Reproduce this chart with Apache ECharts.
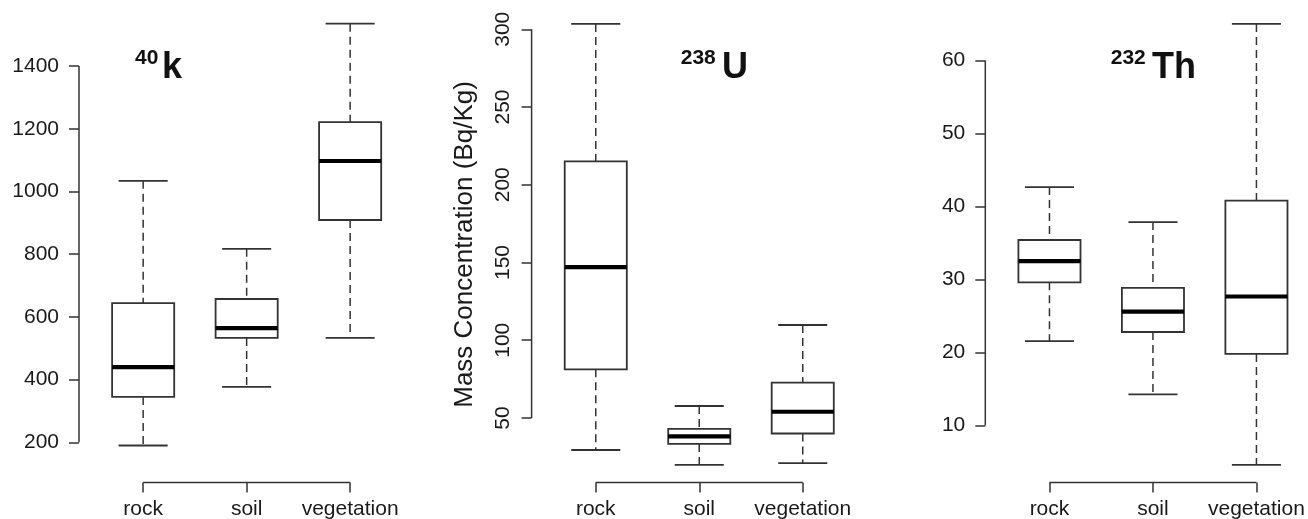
<!DOCTYPE html>
<html>
<head>
<meta charset="utf-8">
<script src="https://cdn.jsdelivr.net/npm/echarts@6/dist/echarts.min.js"></script>
<style>
html,body{margin:0;padding:0;background:#fff;}
#chart{width:1308px;height:519px;}
</style>
</head>
<body>
<div id="chart"></div>
<script>
// ---- data ----
const categories = ['rock', 'soil', 'vegetation'];
// each row: [min, Q1, median, Q3, max]
const k40Stats = [[190, 345, 440, 644, 1034], [377, 533, 564, 657, 817], [533, 909, 1097, 1221, 1535]];
const u238Stats = [[29.4, 81.3, 147, 215, 303.4], [19.8, 33.3, 38.2, 43, 57.7], [21, 40, 54, 72.7, 109.8]];
const th232Stats = [[21.55, 29.6, 32.5, 35.4, 42.65], [14.25, 22.8, 25.6, 28.85, 37.85], [4.6, 19.8, 27.66, 40.8, 65]];
const k40Ticks = [200, 400, 600, 800, 1000, 1200, 1400];
const u238Ticks = [50, 100, 150, 200, 250, 300];
const th232Ticks = [10, 20, 30, 40, 50, 60];
const isotopeMass = ['40', '238', '232'];
const isotopeSymbol = ['k', 'U', 'Th'];
const yAxisTitle = 'Mass Concentration (Bq/Kg)';

// ---- layout / style ----
const FONT = '"Liberation Sans", Arial, Helvetica, sans-serif';
const TEXT = '#1a1a1a';
const LINE = '#333';
const X_MIN = 0.38, X_MAX = 3.62;

const panels = [
  {stats: k40Stats, ticks: k40Ticks, range: [72, 1590], left: 79, rotateLabels: false},
  {stats: u238Stats, ticks: u238Ticks, range: [8.5, 314.7], left: 531.6, rotateLabels: true},
  {stats: th232Stats, ticks: th232Ticks, range: [2.18, 67.4], left: 985.3, rotateLabels: false}
];

const grids = [], xAxes = [], yAxes = [], series = [];

panels.forEach((p, i) => {
  grids.push({left: p.left, top: 6.4, width: 335.3, height: 476.1, containLabel: false, outerBoundsMode: 'none'});
  xAxes.push({
    type: 'value', gridIndex: i, min: X_MIN, max: X_MAX,
    splitLine: {show: false}, axisLine: {show: false},
    axisTick: {show: true, customValues: [1, 2, 3], length: 10, lineStyle: {color: LINE, width: 1.5}},
    axisLabel: {show: true, customValues: [1, 2, 3], margin: 16, color: TEXT, fontSize: 21, fontFamily: FONT,
      formatter: v => categories[Math.round(v) - 1]}
  });
  const y = {
    type: 'value', gridIndex: i, min: p.range[0], max: p.range[1],
    splitLine: {show: false}, axisLine: {show: false},
    axisTick: {show: true, customValues: p.ticks, length: 10, lineStyle: {color: LINE, width: 1.5}},
    axisLabel: {show: true, customValues: p.ticks, margin: 20, color: TEXT, fontSize: 21, fontFamily: FONT,
      rotate: p.rotateLabels ? 90 : 0, formatter: v => String(v)}
  };
  if (p.rotateLabels) {
    y.axisLabel.margin = 18;
    y.name = yAxisTitle;
    y.nameLocation = 'middle';
    y.nameRotate = 90;
    y.nameGap = 54;
    y.nameTextStyle = {fontSize: 26, color: TEXT, fontFamily: FONT};
  }
  yAxes.push(y);

  // axis lines spanning first..last tick (R style)
  const t0 = p.ticks[0], t1 = p.ticks[p.ticks.length - 1];
  series.push({
    type: 'custom', xAxisIndex: i, yAxisIndex: i, silent: true, clip: false,
    data: [[1, t0]],
    renderItem: (params, api) => {
      const a = api.coord([X_MIN, t0]), b = api.coord([X_MIN, t1]);
      const c = api.coord([1, p.range[0]]), d = api.coord([3, p.range[0]]);
      return {type: 'group', children: [
        {type: 'line', shape: {x1: a[0], y1: a[1], x2: b[0], y2: b[1]}, style: {stroke: LINE, lineWidth: 1.5}},
        {type: 'line', shape: {x1: c[0], y1: c[1], x2: d[0], y2: d[1]}, style: {stroke: LINE, lineWidth: 1.5}}
      ]};
    }
  });

  // box plots
  series.push({
    type: 'custom', xAxisIndex: i, yAxisIndex: i, clip: false,
    data: p.stats.map((s, j) => [j + 1].concat(s)),
    encode: {x: 0, y: [1, 2, 3, 4, 5]},
    renderItem: (params, api) => {
      const x = api.value(0);
      const lo = api.value(1), q1 = api.value(2), md = api.value(3), q3 = api.value(4), hi = api.value(5);
      const hb = 0.3, hc = 0.237;
      const bl = api.coord([x - hb, q1]), tr = api.coord([x + hb, q3]);
      const m1 = api.coord([x - hb, md]), m2 = api.coord([x + hb, md]);
      const cLo = api.coord([x, lo]), cHi = api.coord([x, hi]);
      const capL = api.coord([x - hc, lo]), capR = api.coord([x + hc, lo]);
      const capL2 = api.coord([x - hc, hi]), capR2 = api.coord([x + hc, hi]);
      const dash = {stroke: LINE, lineWidth: 1.5, lineDash: [8, 5]};
      const solid = {stroke: LINE, lineWidth: 1.8};
      return {type: 'group', children: [
        {type: 'line', shape: {x1: cHi[0], y1: cHi[1], x2: cHi[0], y2: tr[1]}, style: dash},
        {type: 'line', shape: {x1: cLo[0], y1: bl[1], x2: cLo[0], y2: cLo[1]}, style: dash},
        {type: 'line', shape: {x1: capL[0], y1: capL[1], x2: capR[0], y2: capR[1]}, style: solid},
        {type: 'line', shape: {x1: capL2[0], y1: capL2[1], x2: capR2[0], y2: capR2[1]}, style: solid},
        {type: 'rect', shape: {x: bl[0], y: tr[1], width: tr[0] - bl[0], height: bl[1] - tr[1]},
          style: {fill: '#fff', stroke: LINE, lineWidth: 1.8}},
        {type: 'line', shape: {x1: m1[0], y1: m1[1], x2: m2[0], y2: m2[1]}, style: {stroke: '#000', lineWidth: 4.2}}
      ]};
    }
  });
});

const supPos = [[135, 58.7], [680.7, 58.7], [1110.7, 58.7]];
const symPos = [[162, 68.3], [722, 68.3], [1152, 68.3]];
const graphic = [];
isotopeMass.forEach((m, i) => {
  graphic.push({type: 'text', silent: true, style: {text: m, x: supPos[i][0], y: supPos[i][1],
    font: 'bold 21px ' + FONT, fill: '#111', align: 'left', verticalAlign: 'middle'}});
  graphic.push({type: 'text', silent: true, style: {text: isotopeSymbol[i], x: symPos[i][0], y: symPos[i][1],
    font: 'bold 36px "Liberation Sans Narrow", ' + FONT, fill: '#111', align: 'left', verticalAlign: 'middle'}});
});

const chart = echarts.init(document.getElementById('chart'), null, {renderer: 'canvas'});
chart.setOption({
  animation: false,
  backgroundColor: '#fff',
  grid: grids,
  xAxis: xAxes,
  yAxis: yAxes,
  series: series,
  graphic: graphic
});
</script>
</body>
</html>
